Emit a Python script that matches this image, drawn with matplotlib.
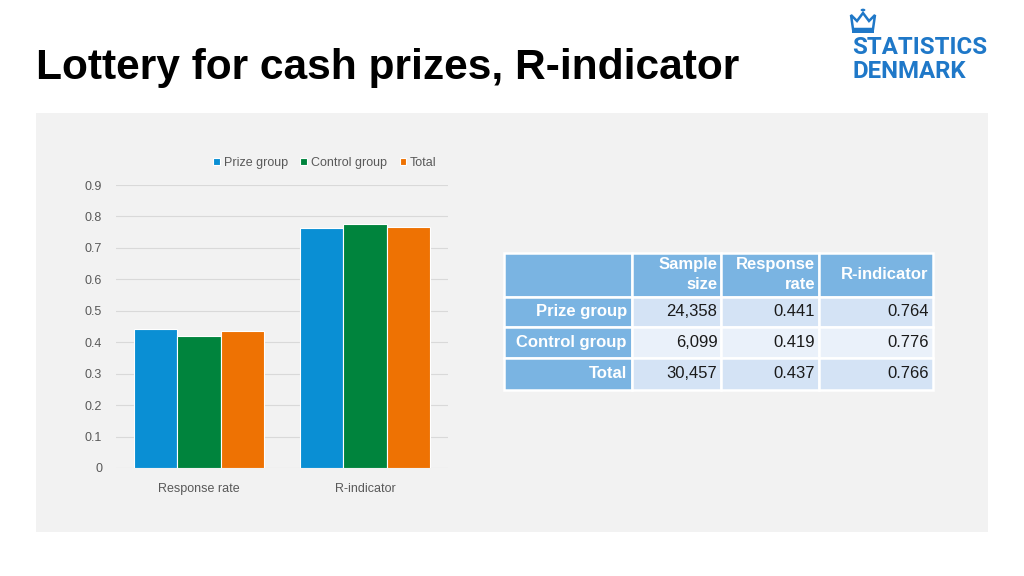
import numpy as np
import matplotlib.pyplot as plt
from matplotlib.patches import Rectangle, Polygon, Circle

plt.rcParams["font.family"] = ["Liberation Sans", "DejaVu Sans"]

categories = ["Response rate", "R-indicator"]
series_names = ["Prize group", "Control group", "Total"]
prize_vals = [0.441, 0.764]
control_vals = [0.419, 0.776]
total_vals = [0.437, 0.766]
colors = ["#0a8fd4", "#00843d", "#ee7203"]

table_cols = ["", "Sample\nsize", "Response\nrate", "R-indicator"]
table_rows = ["Prize group", "Control group", "Total"]
sample_size = ["24,358", "6,099", "30,457"]
response_rate = ["0.441", "0.419", "0.437"]
r_indicator = ["0.764", "0.776", "0.766"]

W, H = 1024, 576
fig = plt.figure(figsize=(10.24, 5.76), dpi=100)
fig.patch.set_facecolor("white")

# grey panel behind chart and table
fig.patches.append(Rectangle((36 / W, 1 - 532 / H), 952 / W, 419 / H,
                             transform=fig.transFigure, facecolor="#f2f2f2",
                             edgecolor="none", zorder=-5))

fig.text(36 / W, 1 - 68 / H, "Lottery for cash prizes, R-indicator",
         fontsize=30.6, fontweight="bold", va="center", ha="left", color="black")

# logo
blue = "#1f78c8"
fig.text(852 / W, 1 - 47 / H, "STATISTICS", fontsize=17.3, fontweight="bold",
         family="Roboto", color=blue, va="center", ha="left")
fig.text(852 / W, 1 - 71 / H, "DENMARK", fontsize=17.3, fontweight="bold",
         family="Roboto", color=blue, va="center", ha="left")
crown = [(853, 29), (851, 15), (857, 21), (863, 13), (869, 21), (875, 15), (873, 29)]
fig.patches.append(Polygon([(x / W, 1 - y / H) for x, y in crown], closed=True,
                           transform=fig.transFigure, facecolor="none",
                           edgecolor=blue, lw=1.8))
fig.patches.append(Circle((863 / W, 1 - 10 / H), 2.4 / W, transform=fig.transFigure,
                          facecolor=blue, edgecolor="none"))
fig.patches.append(Rectangle((852 / W, 1 - 33 / H), 22 / W, 3 / H,
                             transform=fig.transFigure, facecolor=blue, edgecolor="none"))

# bar chart
ax = fig.add_axes([116 / W, 1 - 468 / H, 332 / W, 283 / H])
ax.set_facecolor("none")
x = np.arange(len(categories))
bw = 0.262
for i, (vals, name) in enumerate(zip([prize_vals, control_vals, total_vals], series_names)):
    ax.bar(x + (i - 1) * bw, vals, bw, color=colors[i], edgecolor="white",
           linewidth=0.8, label=name, zorder=3)
ax.set_xlim(-0.5, 1.5)
ax.set_ylim(0, 0.9)
ax.set_yticks(np.arange(0, 0.91, 0.1))
ax.set_yticklabels(["0"] + ["%.1f" % v for v in np.arange(0.1, 0.91, 0.1)])
ax.set_xticks(x)
ax.set_xticklabels(categories)
ax.grid(axis="y", color="#d9d9d9", lw=0.8, zorder=0)
for s in ax.spines.values():
    s.set_visible(False)
ax.tick_params(length=0, colors="#595959", labelsize=9)
ax.tick_params(axis="y", pad=10)
ax.tick_params(axis="x", pad=11)
ax.legend(loc="center", bbox_to_anchor=(325 / W, 1 - 163 / H),
          bbox_transform=fig.transFigure, ncol=3, frameon=False,
          fontsize=9, handlelength=0.55, handleheight=0.55, handletextpad=0.3,
          columnspacing=1.0, labelcolor="#595959")

# table
tax = fig.add_axes([504 / W, 1 - 390 / H, 429 / W, 137 / H])
tax.axis("off")
cell_text = [table_cols] + [[r, s, rr, ri] for r, s, rr, ri in
                            zip(table_rows, sample_size, response_rate, r_indicator)]
tbl = tax.table(cellText=cell_text, bbox=[0, 0, 1, 1], loc="center")
tbl.auto_set_font_size(False)
col_w = [128, 89, 98, 114]
row_h = [43, 30, 30, 32]
head_blue = "#7ab4e2"
row_fill = ["#d4e3f5", "#eaf1fa", "#d4e3f5"]
for (r, c), cell in tbl.get_celld().items():
    cell.set_width(col_w[c])
    cell.set_height(row_h[r])
    cell.set_edgecolor("white")
    cell.set_linewidth(1.8)
    cell.set_text_props(ha="right", fontsize=12)
    cell.PAD = 0.04
    if r == 0 or c == 0:
        cell.set_facecolor(head_blue)
        cell.get_text().set_color("white")
        cell.get_text().set_fontweight("bold")
    else:
        cell.set_facecolor(row_fill[r - 1])
        cell.get_text().set_color("#1a1a1a")
tbl.get_celld()[(0, 1)].get_text().set_linespacing(1.4)
tbl.get_celld()[(0, 2)].get_text().set_linespacing(1.4)

fig.savefig("out.png", dpi=100, facecolor="white")
